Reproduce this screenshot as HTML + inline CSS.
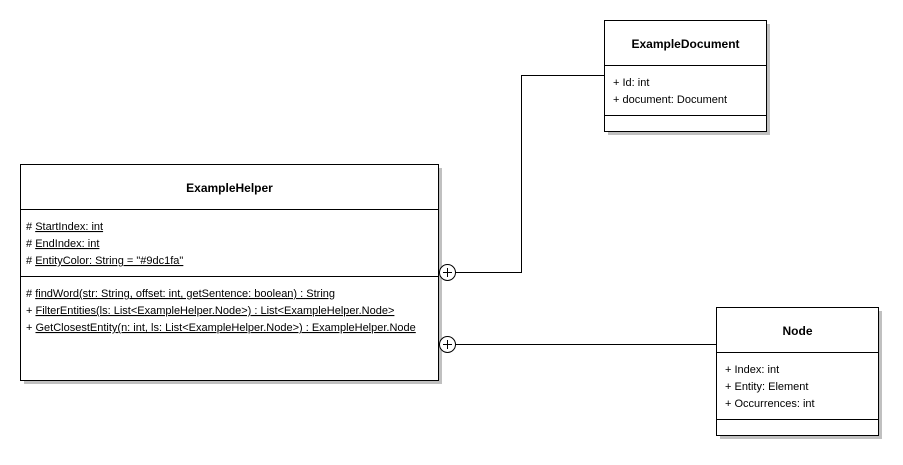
<!DOCTYPE html>
<html><head><style>
html,body{margin:0;padding:0;background:#fff;}
svg text{font-family:"Liberation Sans",sans-serif;font-size:11px;fill:#000;}
.t{font-weight:bold;font-size:12px;}
</style></head><body>
<svg width="903" height="460" viewBox="0 0 903 460" xmlns="http://www.w3.org/2000/svg">
<g fill="#c0c0c0">
<rect x="608" y="24" width="162" height="111"/>
<rect x="24" y="168" width="418" height="216"/>
<rect x="720" y="311" width="162" height="128"/>
</g>
<g fill="#fff" stroke="#000" stroke-width="1">
<rect x="604.5" y="20.5" width="162" height="111"/>
<rect x="20.5" y="164.5" width="418" height="216"/>
<rect x="716.5" y="307.5" width="162" height="128"/>
</g>
<g stroke="#000" stroke-width="1" fill="none">
<line x1="604" y1="65.5" x2="767" y2="65.5"/>
<line x1="604" y1="115.5" x2="767" y2="115.5"/>
<line x1="20" y1="209.5" x2="439" y2="209.5"/>
<line x1="20" y1="276.5" x2="439" y2="276.5"/>
<line x1="716" y1="352.5" x2="879" y2="352.5"/>
<line x1="716" y1="419.5" x2="879" y2="419.5"/>
<polyline points="455,272.5 521.5,272.5 521.5,75.5 604,75.5"/>
<line x1="455" y1="344.5" x2="716" y2="344.5"/>
<circle cx="447.5" cy="272.5" r="8" fill="#fff"/>
<line x1="443" y1="272.5" x2="452" y2="272.5"/><line x1="447.5" y1="268" x2="447.5" y2="277"/>
<circle cx="447.5" cy="344.5" r="8" fill="#fff"/>
<line x1="443" y1="344.5" x2="452" y2="344.5"/><line x1="447.5" y1="340" x2="447.5" y2="349"/>
</g>
<text class="t" x="685.5" y="48" text-anchor="middle">ExampleDocument</text>
<text x="613" y="86">+ Id: int</text>
<text x="613" y="103">+ document: Document</text>
<text class="t" x="229.5" y="192" text-anchor="middle">ExampleHelper</text>
<text x="26" y="230"># <tspan text-decoration="underline">StartIndex: int</tspan></text>
<text x="26" y="247"># <tspan text-decoration="underline">EndIndex: int</tspan></text>
<text x="26" y="264"># <tspan text-decoration="underline">EntityColor: String = "#9dc1fa"</tspan></text>
<text x="26" y="297"># <tspan text-decoration="underline">findWord(str: String, offset: int, getSentence: boolean) : String</tspan></text>
<text x="26" y="314">+ <tspan text-decoration="underline">FilterEntities(ls: List&lt;ExampleHelper.Node&gt;) : List&lt;ExampleHelper.Node&gt;</tspan></text>
<text x="26" y="331">+ <tspan text-decoration="underline">GetClosestEntity(n: int, ls: List&lt;ExampleHelper.Node&gt;) : ExampleHelper.Node</tspan></text>
<text class="t" x="797.5" y="335" text-anchor="middle">Node</text>
<text x="725" y="373">+ Index: int</text>
<text x="725" y="390">+ Entity: Element</text>
<text x="725" y="407">+ Occurrences: int</text>
</svg>
</body></html>
